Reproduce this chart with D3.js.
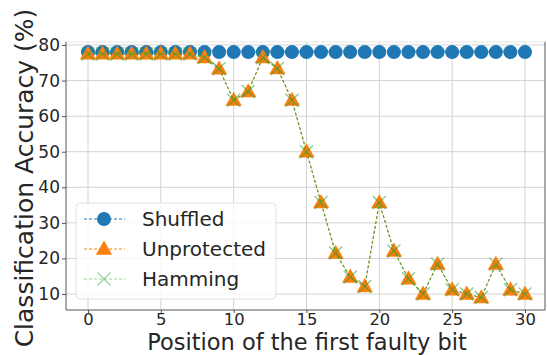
<!DOCTYPE html>
<html><head><meta charset="utf-8">
<script src="https://cdn.jsdelivr.net/npm/d3@7"></script>
<style>body{margin:0;background:#fff;} svg{display:block;} text{font-family:"DejaVu Sans",sans-serif;}</style>
</head><body>
<svg id="c" width="547" height="355"></svg>
<script>
const positions = d3.range(0, 31);
const shuffled = [78,78,78,78,78,78,78,78,78,78,78,78,78,78,78,78,78,78,78,78,78,78,78,78,78,78,78,78,78,78,78];
const unprotected = [77.5,77.5,77.5,77.5,77.5,77.5,77.5,77.5,76.5,73.3,64.5,66.9,76.5,73.4,64.5,50.0,35.7,21.5,14.8,12.1,35.7,22.1,14.3,10.0,18.4,11.2,10.0,9.0,18.4,11.2,10.0];
const hamming = unprotected.slice();
const xTicks = [0,5,10,15,20,25,30];
const yTicks = [10,20,30,40,50,60,70,80];
const seriesNames = ["Shuffled","Unprotected","Hamming"];
const colors = ["#1f77b4","#ff7f0e","#2ca02c"];

const svg = d3.select("#c");
const L = 66, R = 545, T = 42, B = 310;
const x = d3.scaleLinear().domain([0,30]).range([88,525]);
const y = d3.scaleLinear().domain([10,80]).range([294,45]);

// grid
const g = svg.append("g");
g.selectAll(".gx").data(xTicks).join("line")
  .attr("x1", d=>x(d)).attr("x2", d=>x(d)).attr("y1", T).attr("y2", B)
  .attr("stroke", "#d3d3d3").attr("stroke-width", 1);
g.selectAll(".gy").data(yTicks).join("line")
  .attr("x1", L).attr("x2", R).attr("y1", d=>y(d)).attr("y2", d=>y(d))
  .attr("stroke", "#d3d3d3").attr("stroke-width", 1);
svg.append("line").attr("x1",L).attr("x2",R).attr("y1",T).attr("y2",T).attr("stroke","#e6e6e6");

// axes
const xAxis = d3.axisBottom(x).tickValues(xTicks).tickSize(3).tickPadding(0);
const yAxis = d3.axisLeft(y).tickValues(yTicks).tickSize(4).tickPadding(2);
const ax = svg.append("g").attr("transform", `translate(0,${B})`).call(xAxis);
ax.select(".domain").remove();
const ay = svg.append("g").attr("transform", `translate(${L},0)`).call(yAxis);
ay.select(".domain").remove();
ax.selectAll("text").attr("font-size", 16.4);
ay.selectAll("text").attr("font-size", 17);
[ax, ay].forEach(a => {
  a.selectAll("text").attr("fill", "#262626").attr("font-family","DejaVu Sans");
  a.selectAll("line").attr("stroke", "#555");
});
svg.append("line").attr("x1",L).attr("x2",L).attr("y1",T).attr("y2",B).attr("stroke","#555");
svg.append("line").attr("x1",L).attr("x2",R).attr("y1",B).attr("y2",B).attr("stroke","#555");
svg.append("line").attr("x1",R).attr("x2",R).attr("y1",T).attr("y2",B).attr("stroke","#555");

const line = d3.line().x((d,i)=>x(positions[i])).y(d=>y(d));
const tri = d3.symbol().type(d3.symbolTriangle).size(115);
function xMark(cx, cy, s){ return `M${cx-s},${cy-s}L${cx+s},${cy+s}M${cx-s},${cy+s}L${cx+s},${cy-s}`; }

// Shuffled
svg.append("path").datum(shuffled).attr("d", line).attr("fill","none")
  .attr("stroke", colors[0]).attr("stroke-width",1).attr("stroke-dasharray","3,2");
svg.selectAll(".sh").data(shuffled).join("circle")
  .attr("cx",(d,i)=>x(positions[i])).attr("cy",d=>y(d)).attr("r",7).attr("fill",colors[0]);
// Unprotected
svg.append("path").datum(unprotected).attr("d", line).attr("fill","none")
  .attr("stroke", colors[1]).attr("stroke-width",1).attr("stroke-dasharray","3,2");
svg.selectAll(".up").data(unprotected).join("path")
  .attr("transform",(d,i)=>`translate(${x(positions[i])},${y(d)+1})`).attr("d", tri()).attr("fill",colors[1]);
// Hamming
svg.append("path").datum(hamming).attr("d", line).attr("fill","none")
  .attr("stroke", colors[2]).attr("stroke-opacity",0.75).attr("stroke-width",1.2).attr("stroke-dasharray","3,2");
svg.selectAll(".hm").data(hamming).join("path")
  .attr("d",(d,i)=>xMark(x(positions[i]), y(d), 6.5)).attr("stroke",colors[2]).attr("stroke-opacity",0.55)
  .attr("stroke-width",1.4).attr("fill","none");

// legend
const lg = svg.append("g");
lg.append("rect").attr("x",76).attr("y",203).attr("width",200).attr("height",96).attr("rx",4)
  .attr("fill","#fff").attr("fill-opacity",0.8).attr("stroke","#e0e0e0");
const ly = [219, 249, 279];
seriesNames.forEach((n,i)=>{
  lg.append("line").attr("x1",84).attr("x2",125).attr("y1",ly[i]).attr("y2",ly[i])
    .attr("stroke",colors[i]).attr("stroke-width",1).attr("stroke-dasharray","3,2")
    .attr("stroke-opacity", i==2?0.5:1);
  if(i==0) lg.append("circle").attr("cx",104).attr("cy",ly[i]).attr("r",7).attr("fill",colors[0]);
  if(i==1) lg.append("path").attr("transform",`translate(104,${ly[i]+1})`).attr("d",tri()).attr("fill",colors[1]);
  if(i==2) lg.append("path").attr("d",xMark(104,ly[i],6.5)).attr("stroke",colors[2]).attr("stroke-opacity",0.45).attr("stroke-width",1.4);
  lg.append("text").attr("x",142).attr("y",ly[i]).attr("dy","0.36em").attr("font-size",20).attr("fill","#262626").text(n);
});

// titles
svg.append("text").attr("x",307).attr("y",349.5).attr("text-anchor","middle").attr("font-size",22.5).attr("fill","#262626")
  .text("Position of the first faulty bit");
svg.append("text").attr("transform","translate(33,178) rotate(-90)").attr("text-anchor","middle").attr("font-size",25).attr("fill","#262626")
  .text("Classification Accuracy (%)");
</script>
</body></html>
